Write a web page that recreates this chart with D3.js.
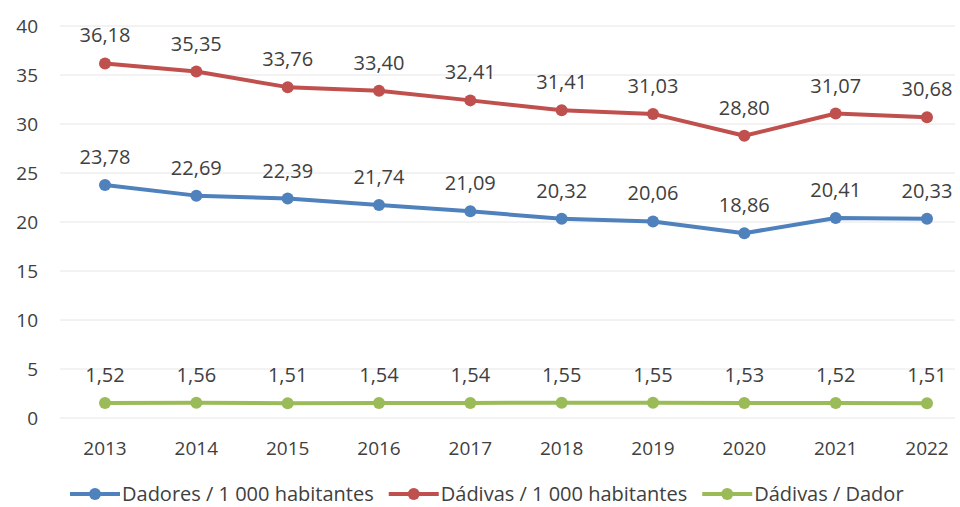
<!DOCTYPE html>
<html>
<head>
<meta charset="utf-8">
<script src="https://cdn.jsdelivr.net/npm/d3@7.9.0/dist/d3.min.js"></script>
<style>
  body { margin: 0; background: #fff; }
  svg text { font-family: "Open Sans", "Noto Sans", sans-serif; fill: #404040; }
</style>
</head>
<body>
<svg width="960" height="507"></svg>
<script>
const years = ['2013','2014','2015','2016','2017','2018','2019','2020','2021','2022'];
const dadores = [23.78, 22.69, 22.39, 21.74, 21.09, 20.32, 20.06, 18.86, 20.41, 20.33];
const dadivas = [36.18, 35.35, 33.76, 33.40, 32.41, 31.41, 31.03, 28.80, 31.07, 30.68];
const porDador = [1.52, 1.56, 1.51, 1.54, 1.54, 1.55, 1.55, 1.53, 1.52, 1.51];
const yTicks = [0, 5, 10, 15, 20, 25, 30, 35, 40];

const series = [
  { name: 'Dadores / 1 000 habitantes', values: dadores, color: '#4f81bd' },
  { name: 'Dádivas / 1 000 habitantes', values: dadivas, color: '#c0504d' },
  { name: 'Dádivas / Dador', values: porDador, color: '#9bbb59' }
];

const svg = d3.select('svg');
const fmt = v => v.toFixed(2).replace('.', ',');

let x = d3.scalePoint().domain(years).range([105, 927]);
let y = d3.scaleLinear().domain([0, 40]).range([418, 26]);

// gridlines
svg.append('g').selectAll('line').data(yTicks).join('line')
  .attr('x1', 60).attr('x2', 955)
  .attr('y1', d => y(d)).attr('y2', d => y(d))
  .attr('stroke', '#e6e6e6').attr('stroke-width', 1);

// y labels
svg.append('g').selectAll('text').data(yTicks).join('text')
  .attr('x', 38).attr('y', d => y(d)).attr('dy', '0.35em')
  .attr('text-anchor', 'end').style('font-size', '19px')
  .text(d => d);

// x labels
svg.append('g').selectAll('text').data(years).join('text')
  .attr('x', d => x(d)).attr('y', 455)
  .attr('text-anchor', 'middle').style('font-size', '19px')
  .text(d => d);

const line = d3.line().x((d, i) => x(years[i])).y(d => y(d));

series.forEach(s => {
  let g = svg.append('g');
  g.append('path').attr('d', line(s.values))
    .attr('fill', 'none').attr('stroke', s.color)
    .attr('stroke-width', 4).attr('stroke-linejoin', 'round');
  g.selectAll('circle').data(s.values).join('circle')
    .attr('cx', (d, i) => x(years[i])).attr('cy', d => y(d))
    .attr('r', 6).attr('fill', s.color);
  g.selectAll('text').data(s.values).join('text')
    .attr('x', (d, i) => x(years[i])).attr('y', d => y(d) - 21)
    .attr('text-anchor', 'middle').style('font-size', '20px')
    .text(d => fmt(d));
});

// legend
let legend = svg.append('g');
let lx = 70;
series.forEach(s => {
  let item = legend.append('g').attr('transform', `translate(${lx},494)`);
  item.append('line').attr('x1', 0).attr('x2', 50).attr('stroke', s.color).attr('stroke-width', 4);
  item.append('circle').attr('cx', 25).attr('r', 6).attr('fill', s.color);
  let t = item.append('text').attr('x', 52).attr('y', 7)
    .style('font-size', '20px').text(s.name);
  lx += 52 + t.node().getComputedTextLength() + 15;
});
</script>
</body>
</html>
